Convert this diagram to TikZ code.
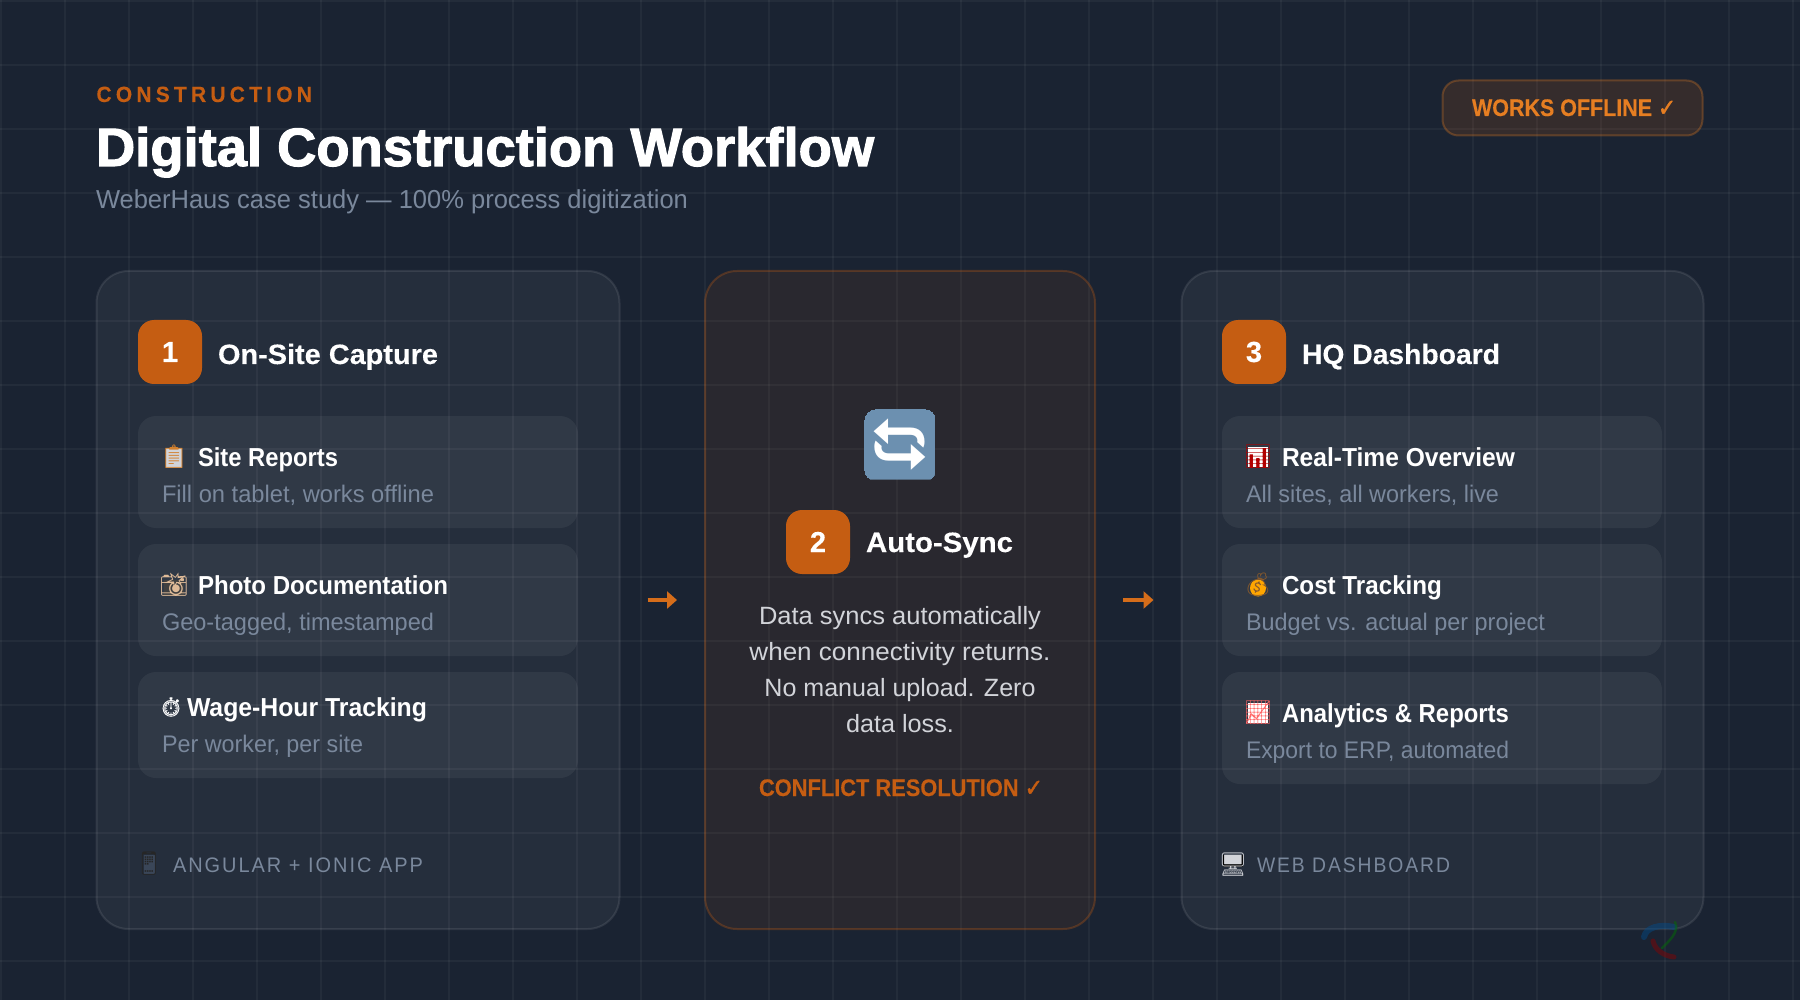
\documentclass[tikz,border=0pt]{standalone}
\usepackage{fontspec}
\usepackage{graphicx}
\setmainfont{Liberation Sans}
\newfontfamily\emo{Noto Emoji}
\newfontfamily\chkf{DejaVu Sans}
\usetikzlibrary{arrows.meta,shapes.geometric}
\newcommand{\fsz}[1]{\fontsize{#1}{#1}\selectfont}
\newcommand{\fitw}[2]{\resizebox{#1pt}{\height}{#2}}
\newcommand{\hvy}[1]{\addfontfeature{FakeBold=#1}}
\definecolor{bgc}{HTML}{1A2332}
\definecolor{orgA}{HTML}{C55D12}
\definecolor{orgB}{HTML}{E67E22}
\definecolor{muted}{HTML}{7A889C}
\definecolor{body}{HTML}{D2D4D9}
\definecolor{syncblue}{HTML}{6C90B0}
\definecolor{phonebk}{HTML}{3A4658}
\tikzset{
  gridline/.style={white,opacity=.045,line width=2pt},
  panel/.style={rectangle,rounded corners=32pt,inner sep=0,outer sep=0,fill=white,fill opacity=.05,draw=white,draw opacity=.09,line width=2pt},
  midpanel/.style={panel,fill=orgA,fill opacity=.09,draw=orgA,draw opacity=.3},
  card/.style={rectangle,rounded corners=18pt,inner sep=0,outer sep=0,fill=white,fill opacity=.055,minimum width=440pt},
  numbadge/.style={rectangle,rounded corners=16pt,fill=orgA,minimum width=64pt,minimum height=64pt,inner sep=0,outer sep=0,text=white,font=\bfseries\fsz{29}\hvy{0.3}},
  pill/.style={rectangle,rounded corners=16pt,inner sep=0,outer sep=0,fill=orgA,fill opacity=.16,draw=orgB,draw opacity=.3,line width=2pt},
  txt/.style={inner sep=0,outer sep=0,anchor=base west},
  ctxt/.style={inner sep=0,outer sep=0,anchor=base},
  head/.style={txt,text=white,font=\bfseries\fsz{28}\hvy{0.2}},
  itemt/.style={txt,text=white,font=\bfseries\fsz{26}},
  items/.style={txt,text=muted,font=\fsz{24}},
  foot/.style={txt,text=muted,font=\fsz{21}},
  bodyt/.style={ctxt,text=body,font=\fsz{25}},
  icon/.style={inner sep=0,outer sep=0,anchor=center,font=\emo\fsz{23}},
  backing/.style={rectangle,inner sep=0,outer sep=0,minimum width=#1},
  flow/.style={draw=orgB!50!orgA,line width=3.5pt,-{Triangle[length=10pt,width=17pt]},shorten <=28pt,shorten >=28pt},
}
\begin{document}
\begin{tikzpicture}[x=1pt,y=-1pt]
\useasboundingbox (0,0) rectangle (1800,1000);
\fill[bgc] (0,0) rectangle (1800,1000);
\foreach \gx in {1,65,...,1793} {\draw[gridline] (\gx,0) -- (\gx,1000);}
\foreach \gy in {1,65,...,993} {\draw[gridline] (0,\gy) -- (1800,\gy);}

% header
\node[txt,text=orgA,font=\bfseries\fsz{22}] (eyebrow) at (96.5,102) {\fitw{215.5}{\addfontfeature{LetterSpace=20,FakeBold=0.2}CONSTRUCTION}};
\node[txt,text=white,font=\bfseries\fsz{54}\hvy{2}] (title) at (96,166) {\fitw{778}{Digital Construction Workflow}};
\node[txt,text=muted,font=\fsz{26}] (subtitle) at (96,209) {\fitw{592}{WeberHaus case study — 100\% process digitization}};
\node[pill,minimum width=260pt,minimum height=55pt] (offpill) at (1572.5,108) {};
\node[txt,text=orgB,font=\bfseries\fsz{24}\hvy{0.2}] (offtxt) at (1472,116) {\fitw{204}{WORKS OFFLINE {\chkf\bfseries\hvy{2}✓}}};

% panels
\node[panel,minimum width=523pt,minimum height=658pt] (p1) at (358,600) {};
\node[midpanel,minimum width=390pt,minimum height=658pt] (p2) at (900,600) {};
\node[panel,minimum width=522pt,minimum height=658pt] (p3) at (1442.5,600) {};
\draw[flow] (p1.east) -- (p2.west);
\draw[flow] (p2.east) -- (p3.west);

% panel 1
\node[numbadge] (b1) at (170,352) {\raisebox{-2pt}{1}};
\node[head] (h1) at (218,364) {\fitw{220}{On-Site Capture}};
\node[card,minimum height=112pt] (c11) at (358,472) {};
\node[card,minimum height=112pt] (c12) at (358,600) {};
\node[card,minimum height=106pt] (c13) at (358,725) {};
\node[backing=16pt,minimum height=20pt,fill=body] (k11) at (174,458) {};
\node[icon,text=brown!70!orange] (i11) at (174,457) {📋};
\node[itemt] (t11) at (198,466) {\fitw{140}{Site Reports}};
\node[items] (s11) at (162,502) {\fitw{272}{Fill on tablet, works offline}};
\node[backing=20pt,minimum height=15pt,fill=black!75] (k12) at (174,587) {};
\node[icon,text=body!70!orange] (i12) at (174,585) {📸};
\node[itemt] (t12) at (198,594) {\fitw{250}{Photo Documentation}};
\node[items] (s12) at (162,630) {\fitw{272}{Geo-tagged, timestamped}};
\node[icon,text=white,font=\emo\fsz{19}\hvy{0.4}] (i13) at (171,707) {⏱};
\node[itemt] (t13) at (187,716) {\fitw{240}{Wage-Hour Tracking}};
\node[items] (s13) at (162,752) {\fitw{201}{Per worker, per site}};
\node[backing=11pt,minimum height=19pt,fill=phonebk] (k14) at (149,864) {};
\node[icon,text=black!85] (i14) at (149,864) {📱};
\node[foot] (f1) at (173,872) {\fitw{250}{\addfontfeature{LetterSpace=10}ANGULAR + IONIC APP}};

% panel 2
\node[rectangle,fill=white,minimum width=62pt,minimum height=62pt,inner sep=0,outer sep=0] (syncbg) at (900,445) {};
\begin{scope}
\clip[rounded corners=12pt] (864,409) rectangle (936,481);
\node[icon,text=syncblue,font=\emo\fsz{70}] (sync) at (syncbg.center) {🔄};
\end{scope}
\node[numbadge] (b2) at (818,542) {\raisebox{-2pt}{2}};
\node[head] (h2) at (866,552) {\fitw{147}{Auto-Sync}};
\node[bodyt] (l1) at (900,624) {\fitw{282}{Data syncs automatically}};
\node[bodyt] (l2) at (900,660) {\fitw{301}{when connectivity returns.}};
\node[bodyt] (l3) at (900,696) {\fitw{271}{No manual upload. Zero}};
\node[bodyt] (l4) at (900,732) {\fitw{108}{data loss.}};
\node[ctxt,text=orgA,font=\bfseries\fsz{24}\hvy{0.2}] (conf) at (901,796) {\fitw{284}{CONFLICT RESOLUTION {\chkf\bfseries\hvy{2}✓}}};

% panel 3
\node[numbadge] (b3) at (1254,352) {\raisebox{-2pt}{3}};
\node[head] (h3) at (1302,364) {\fitw{198}{HQ Dashboard}};
\node[card,minimum height=112pt] (c31) at (1442,472) {};
\node[card,minimum height=112pt] (c32) at (1442,600) {};
\node[card,minimum height=112pt] (c33) at (1442,728) {};
\node[backing=20pt,minimum height=20pt,fill=white] (k31) at (1258,457) {};
\node[icon,text=red!70!black] (i31) at (1258,457) {📊};
\node[itemt] (t31) at (1282,466) {\fitw{233}{Real-Time Overview}};
\node[items] (s31) at (1246,502) {\fitw{253}{All sites, all workers, live}};
\node[ellipse,inner sep=0,outer sep=0,minimum width=16pt,minimum height=17pt,fill=orange!70!yellow] (k32) at (1258,588) {};
\node[icon,text=brown!70!black] (i32) at (1258,585) {💰};
\node[itemt] (t32) at (1282,594) {\fitw{160}{Cost Tracking}};
\node[items] (s32) at (1246,630) {\fitw{299}{Budget vs. actual per project}};
\node[backing=20pt,minimum height=20pt,fill=white] (k33) at (1258,713) {};
\node[icon,text=red!60!white] (i33) at (1258,713) {📈};
\node[itemt] (t33) at (1282,722) {\fitw{227}{Analytics \& Reports}};
\node[items] (s33) at (1246,758) {\fitw{263}{Export to ERP, automated}};
\node[backing=20pt,minimum height=12pt,fill=black] (k34) at (1233,861) {};
\node[icon,text=body] (i34) at (1233,865) {🖥};
\node[foot] (f3) at (1257,872) {\fitw{193}{\addfontfeature{LetterSpace=10}WEB DASHBOARD}};

% watermark
\begin{scope}[opacity=.45,line cap=round]
\draw[blue!45!cyan!55!black,line width=6pt] (1644,937) .. controls (1646,927) and (1660,924) .. (1674,927);
\draw[green!45!black,line width=2.5pt] (1675,922) .. controls (1680,932) and (1668,942) .. (1662,948);
\draw[red!55!black,line width=5pt] (1653,941) .. controls (1655,950) and (1664,956) .. (1674,957);
\end{scope}
\end{tikzpicture}
\end{document}
